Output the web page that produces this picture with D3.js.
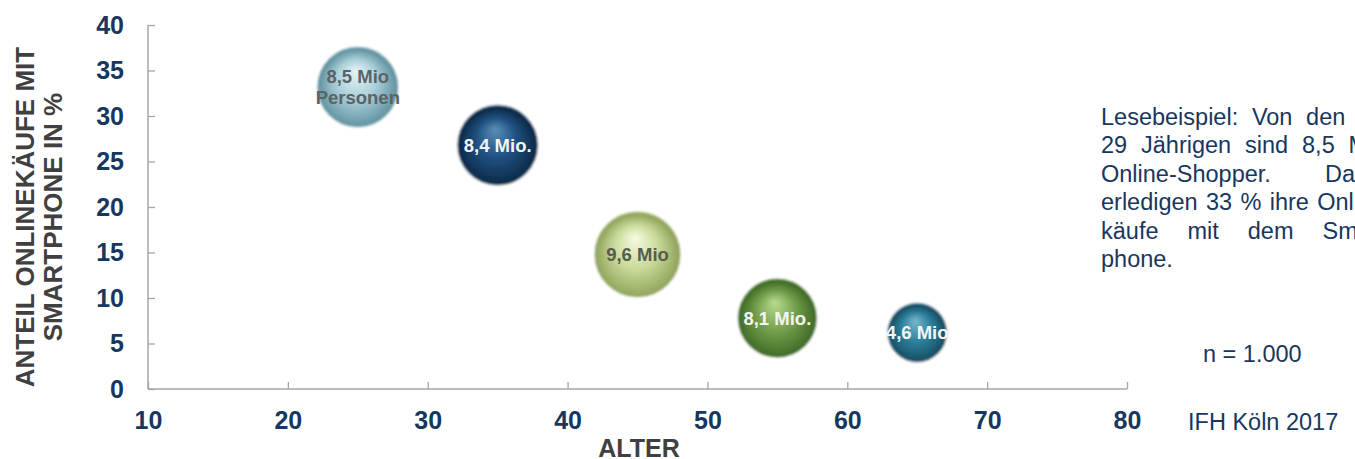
<!DOCTYPE html>
<html>
<head>
<meta charset="utf-8">
<script src="https://cdn.jsdelivr.net/npm/d3@7"></script>
<style>
  html, body { margin: 0; padding: 0; background: #fff; overflow: hidden; }
  svg { display: block; font-family: "Liberation Sans", Arial, sans-serif; }
</style>
</head>
<body>
<svg id="chart" width="1355" height="459"></svg>
<script>
// Age groups (centre of each group), smartphone share of online purchases, online shoppers in millions
const ages = [25, 35, 45, 55, 65];
const shares = [33.2, 26.8, 14.8, 7.8, 6.2];
const shoppers = [8.5, 8.4, 9.6, 8.1, 4.6];
const bubbleLabels = [["8,5 Mio", "Personen"], ["8,4 Mio."], ["9,6 Mio"], ["8,1 Mio."], ["4,6 Mio"]];
const xTicks = [10, 20, 30, 40, 50, 60, 70, 80];
const yTicks = [0, 5, 10, 15, 20, 25, 30, 35, 40];

// sphere shading: [highlight, base, rim]
const palette = [
  ["#e6f5f8", "#a9cfd9", "#5f919f"],
  ["#5a8fb8", "#1f5080", "#0b2846"],
  ["#f6fbe0", "#cbdb9c", "#8fa35a"],
  ["#b9dc90", "#74a04c", "#3d6a25"],
  ["#78b8ce", "#2d7f9b", "#154a60"]
];
const labelColors = ["#5b6366", "#f4f4f4", "#585c4e", "#f4f4f4", "#f4f4f4"];

const svg = d3.select("#chart");
const x = d3.scaleLinear().domain([10, 80]).range([148, 1127]);
const y = d3.scaleLinear().domain([0, 40]).range([389, 25]);
const r = d3.scaleSqrt().domain([0, 9.6]).range([0, 43.5]);

const navy = "#17375e";
const axisGray = "#a6a6a6";

// axes
const xAxis = svg.append("g").attr("transform", `translate(0,${y(0)})`)
  .call(d3.axisBottom(x).tickValues(xTicks).tickSize(-7).tickPadding(22).tickFormat(d3.format("d")));
const yAxis = svg.append("g").attr("transform", `translate(${x(10)},0)`)
  .call(d3.axisLeft(y).tickValues(yTicks).tickSize(-7).tickPadding(24).tickFormat(d3.format("d")));

[xAxis, yAxis].forEach(g => {
  g.select(".domain").attr("stroke", axisGray).attr("stroke-width", 1.5);
  g.selectAll(".tick line").attr("stroke", axisGray).attr("stroke-width", 1.3);
  g.selectAll(".tick text")
    .attr("fill", navy)
    .style("font-family", "'Liberation Sans', Arial, sans-serif")
    .style("font-weight", "bold")
    .style("font-size", "25px");
});
yAxis.select(".domain").attr("d", `M0,${y(40)}V${y(0)}`);
xAxis.select(".domain").attr("d", `M${x(10)},0H${x(80)}`);

// axis titles
svg.append("text")
  .attr("x", 639).attr("y", 457)
  .attr("text-anchor", "middle")
  .attr("fill", "#404040")
  .style("font-weight", "bold").style("font-size", "25px")
  .text("ALTER");

const yTitle = svg.append("text")
  .attr("transform", "translate(0,217) rotate(-90)")
  .attr("text-anchor", "middle")
  .attr("fill", "#404040")
  .style("font-weight", "bold").style("font-size", "26px");
yTitle.append("tspan").attr("x", 0).attr("y", 33.5).text("ANTEIL ONLINEKÄUFE MIT");
yTitle.append("tspan").attr("x", 0).attr("y", 62).text("SMARTPHONE IN %");

// gradients for the spheres
const defs = svg.append("defs");
palette.forEach((c, i) => {
  const g = defs.append("radialGradient")
    .attr("id", "sphere" + i)
    .attr("cx", "0.5").attr("cy", "0.55").attr("r", "0.55")
    .attr("fx", "0.47").attr("fy", "0.3");
  g.append("stop").attr("offset", "0%").attr("stop-color", c[0]);
  g.append("stop").attr("offset", "45%").attr("stop-color", c[1]);
  g.append("stop").attr("offset", "88%").attr("stop-color", c[2]);
  g.append("stop").attr("offset", "100%").attr("stop-color", c[1]);
});
const blur = defs.append("filter").attr("id", "soft").attr("x", "-20%").attr("y", "-20%").attr("width", "140%").attr("height", "140%");
blur.append("feGaussianBlur").attr("stdDeviation", 0.8);

const data = ages.map((a, i) => ({ age: a, share: shares[i], mio: shoppers[i], label: bubbleLabels[i], i }));

const bubbles = svg.append("g").selectAll("g").data(data).join("g")
  .attr("transform", d => `translate(${x(d.age)},${y(d.share)})`);

bubbles.append("circle")
  .attr("r", d => r(d.mio))
  .attr("fill", d => `url(#sphere${d.i})`)
  .attr("stroke", "rgba(255,255,255,0.7)")
  .attr("stroke-width", 1.5)
  .attr("filter", "url(#soft)");

bubbles.each(function (d) {
  const t = d3.select(this).append("text")
    .attr("text-anchor", "middle")
    .attr("fill", labelColors[d.i])
    .style("font-weight", "bold")
    .style("font-size", "18.5px");
  const n = d.label.length;
  d.label.forEach((line, k) => {
    t.append("tspan").attr("x", 0)
      .attr("y", (k - (n - 1) / 2) * 21)
      .attr("dy", "0.35em")
      .text(line);
  });
});

// reading example, justified block
const noteLines = [
  "Lesebeispiel: Von den 20-",
  "29 Jährigen sind 8,5 Mio.",
  "Online-Shopper. Davon",
  "erledigen 33 % ihre Online-",
  "käufe mit dem Smart-",
  "phone."
];
const noteX = 1101, noteW = 292, noteTop = 125, lineH = 28.4;
const note = svg.append("g")
  .attr("fill", navy)
  .style("font-size", "23.5px");
noteLines.forEach((line, li) => {
  const words = line.split(" ");
  const yy = noteTop + li * lineH;
  const last = li === noteLines.length - 1;
  const nodes = words.map(w => note.append("text").attr("y", yy).text(w));
  const widths = nodes.map(n => n.node().getComputedTextLength());
  const total = d3.sum(widths);
  const gap = (last || words.length < 2) ? 6.5 : (noteW - total) / (words.length - 1);
  let cx = noteX;
  nodes.forEach((n, k) => { n.attr("x", cx); cx += widths[k] + gap; });
});

svg.append("text")
  .attr("x", 1203).attr("y", 362)
  .attr("fill", navy).style("font-size", "23.5px")
  .text("n = 1.000");

svg.append("text")
  .attr("x", 1188).attr("y", 430)
  .attr("fill", navy).style("font-size", "23.5px")
  .text("IFH Köln 2017");
</script>
</body>
</html>
